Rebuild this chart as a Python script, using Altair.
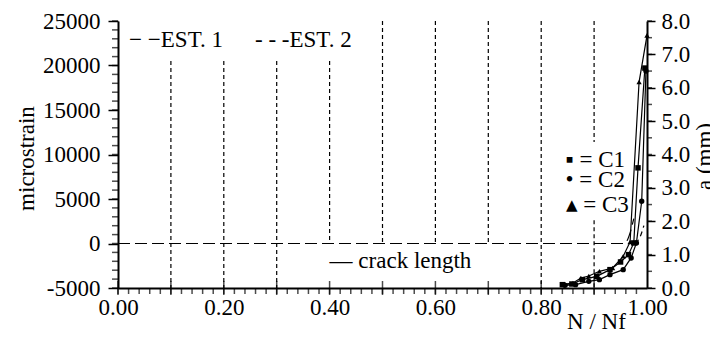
import altair as alt
import pandas as pd

FONT = "Liberation Serif"
FS = 23

# vertical dashed reference lines (N/Nf position, top and bottom in microstrain)
vline_x = [0.1, 0.2, 0.3, 0.4, 0.5, 0.6, 0.7, 0.8, 0.9, 0.9]
vline_top = [20500, 20500, 20500, 20500, 25000, 25000, 25000, 25000, 25000, 2600]
vline_bot = [-5000, -5000, -5000, 0, 0, 0, 0, -5000, 11400, -5000]

# strain estimates
est1_x = [0.00, 0.955, 0.962, 0.968, 0.975]
est1_y = [0, 0, 300, 1200, 2800]
est2_x = [0.978, 0.988, 0.994]
est2_y = [0, 900, 2000]

# crack length (mm)
c1_x = [0.840, 0.858, 0.878, 0.905, 0.930, 0.950, 0.965, 0.975, 0.983, 0.996]
c1_a = [0.10, 0.12, 0.25, 0.35, 0.55, 0.78, 1.00, 1.35, 3.60, 6.59]
c2_x = [0.845, 0.865, 0.890, 0.910, 0.930, 0.955, 0.970, 0.980, 0.990, 0.998]
c2_a = [0.08, 0.10, 0.20, 0.25, 0.40, 0.55, 0.90, 1.35, 2.60, 6.50]
c3_x = [0.845, 0.860, 0.875, 0.890, 0.910, 0.935, 0.955, 0.968, 0.985, 1.000]
c3_a = [0.12, 0.15, 0.30, 0.36, 0.50, 0.60, 0.95, 1.38, 6.17, 7.57]

# axis tick values
x_labels = [0.0, 0.2, 0.4, 0.6, 0.8, 1.0]
x_major = [0.0, 0.1, 0.2, 0.3, 0.4, 0.5, 0.6, 0.7, 0.8, 0.9]
x_minor = [round(i * 0.02, 2) for i in range(50)]
yl_labels = [-5000, 0, 5000, 10000, 15000, 20000, 25000]
yl_minor = list(range(-5000, 25001, 1000))
yr_labels = [0, 1, 2, 3, 4, 5, 6, 7, 8]
yr_minor = [i * 0.5 for i in range(17)]

# annotation texts (label, N/Nf, microstrain)
notes_text = ["\u2212 \u2212EST. 1", "- - -EST. 2", "\u2014 crack length",
              "\u25aa = C1", "\u2022 = C2", "\u25b4 = C3"]
notes_x = [0.021, 0.259, 0.400, 0.846, 0.846, 0.846]
notes_y = [22100, 22100, -2700, 8650, 6350, 3550]

W, H = 529, 267

xscale = alt.Scale(domain=[0, 1], nice=False, zero=False)
ylscale = alt.Scale(domain=[-5000, 25000], nice=False)
yrscale = alt.Scale(domain=[0, 8], nice=False)

xaxis = alt.Axis(
    values=x_labels, format=".2f",
    title="N / Nf", titleX=478, titleY=40, titleAnchor="middle", titleAlign="center",
    titleBaseline="alphabetic",
    grid=False, ticks=False, tickSize=0, labelPadding=8, labelFlush=False,
)
ylaxis = alt.Axis(
    values=yl_labels, labelExpr="'' + datum.value",
    title="microstrain", titleX=-92, titleY=137, titleAngle=-90, titleAlign="center",
    titleBaseline="middle",
    grid=False, tickSize=10, labelPadding=8, labelFlush=False,
)
yraxis = alt.Axis(
    values=yr_labels, orient="right", format=".1f",
    title="a (mm)", titleX=57, titleY=135, titleAngle=-90, titleAlign="center",
    titleBaseline="middle",
    grid=False, tickSize=8, labelPadding=6, labelFlush=False,
)

X = alt.X("x:Q", scale=xscale, axis=xaxis)
YL = lambda f: alt.Y(f, scale=ylscale, axis=ylaxis)
YR = lambda f: alt.Y(f, scale=yrscale, axis=yraxis)

vdf = pd.DataFrame({"x": vline_x, "y": vline_top, "y2": vline_bot})
rules = alt.Chart(vdf).mark_rule(strokeDash=[4, 3], strokeWidth=1.2, color="black").encode(
    x=X, y=YL("y:Q"), y2="y2:Q",
)
e1 = alt.Chart(pd.DataFrame({"x": est1_x, "y": est1_y})).mark_line(
    strokeDash=[12, 5], strokeWidth=1.2, color="black", interpolate="monotone"
).encode(x=X, y=YL("y:Q"))
e2 = alt.Chart(pd.DataFrame({"x": est2_x, "y": est2_y})).mark_line(
    strokeDash=[5, 4], strokeWidth=1.2, color="black", interpolate="monotone"
).encode(x=X, y=YL("y:Q"))
notes = alt.Chart(pd.DataFrame({"t": notes_text, "x": notes_x, "y": notes_y})).mark_text(
    font=FONT, fontSize=FS, align="left", baseline="alphabetic", color="black"
).encode(x=X, y=YL("y:Q"), text="t:N")

# x axis ticks: minor ones point down, major ones cross the axis line
xmin_t = alt.Chart(pd.DataFrame({"x": x_minor})).mark_tick(
    color="black", thickness=1.5, size=6
).encode(x=X, y=alt.value(H + 3))
xmaj_t = alt.Chart(pd.DataFrame({"x": x_major})).mark_tick(
    color="black", thickness=1.5, size=14
).encode(x=X, y=alt.value(H))
# left axis minor ticks (outward)
ylmin_t = alt.Chart(pd.DataFrame({"y": yl_minor})).mark_tick(
    color="black", thickness=1.5, size=6
).encode(y=YL("y:Q"), x=alt.value(-3))

left = alt.layer(rules, e1, e2, notes, xmin_t, xmaj_t, ylmin_t)

series = []
for name, xs, ys in (("C1", c1_x, c1_a), ("C2", c2_x, c2_a), ("C3", c3_x, c3_a)):
    for x, y in zip(xs, ys):
        series.append({"s": name, "x": x, "a": y})
cdf = pd.DataFrame(series)

clines = alt.Chart(cdf).mark_line(color="black", strokeWidth=1.2).encode(
    x=X, y=YR("a:Q"), detail="s:N"
)
shape_map = alt.Scale(domain=["C1", "C2", "C3"], range=["square", "circle", "triangle-up"])
size_map = alt.Scale(domain=["C1", "C2", "C3"], range=[30, 28, 45])
cpts = alt.Chart(cdf).mark_point(filled=True, color="black", opacity=1).encode(
    x=X, y=YR("a:Q"),
    shape=alt.Shape("s:N", scale=shape_map, legend=None),
    size=alt.Size("s:N", scale=size_map, legend=None),
)
# right axis minor ticks (outward)
yrmin_t = alt.Chart(pd.DataFrame({"a": yr_minor})).mark_tick(
    color="black", thickness=1.5, size=5
).encode(y=YR("a:Q"), x=alt.value(W + 2.5))
right = alt.layer(clines, cpts, yrmin_t)

chart = alt.layer(left, right).resolve_scale(y="independent").properties(
    width=W, height=H,
    autosize=alt.AutoSizeParams(type="none"),
    padding={"left": 110, "top": 13, "right": 63, "bottom": 41},
).configure_view(stroke=None).configure_axis(
    domainColor="black", domainWidth=2, tickColor="black", tickWidth=1.5,
    labelFont=FONT, labelFontSize=FS, labelColor="black", labelOverlap=False,
    titleFont=FONT, titleFontSize=FS, titleColor="black", titleFontWeight="normal",
)

chart.save("out.html", embed_options={"renderer": "svg", "actions": False})
